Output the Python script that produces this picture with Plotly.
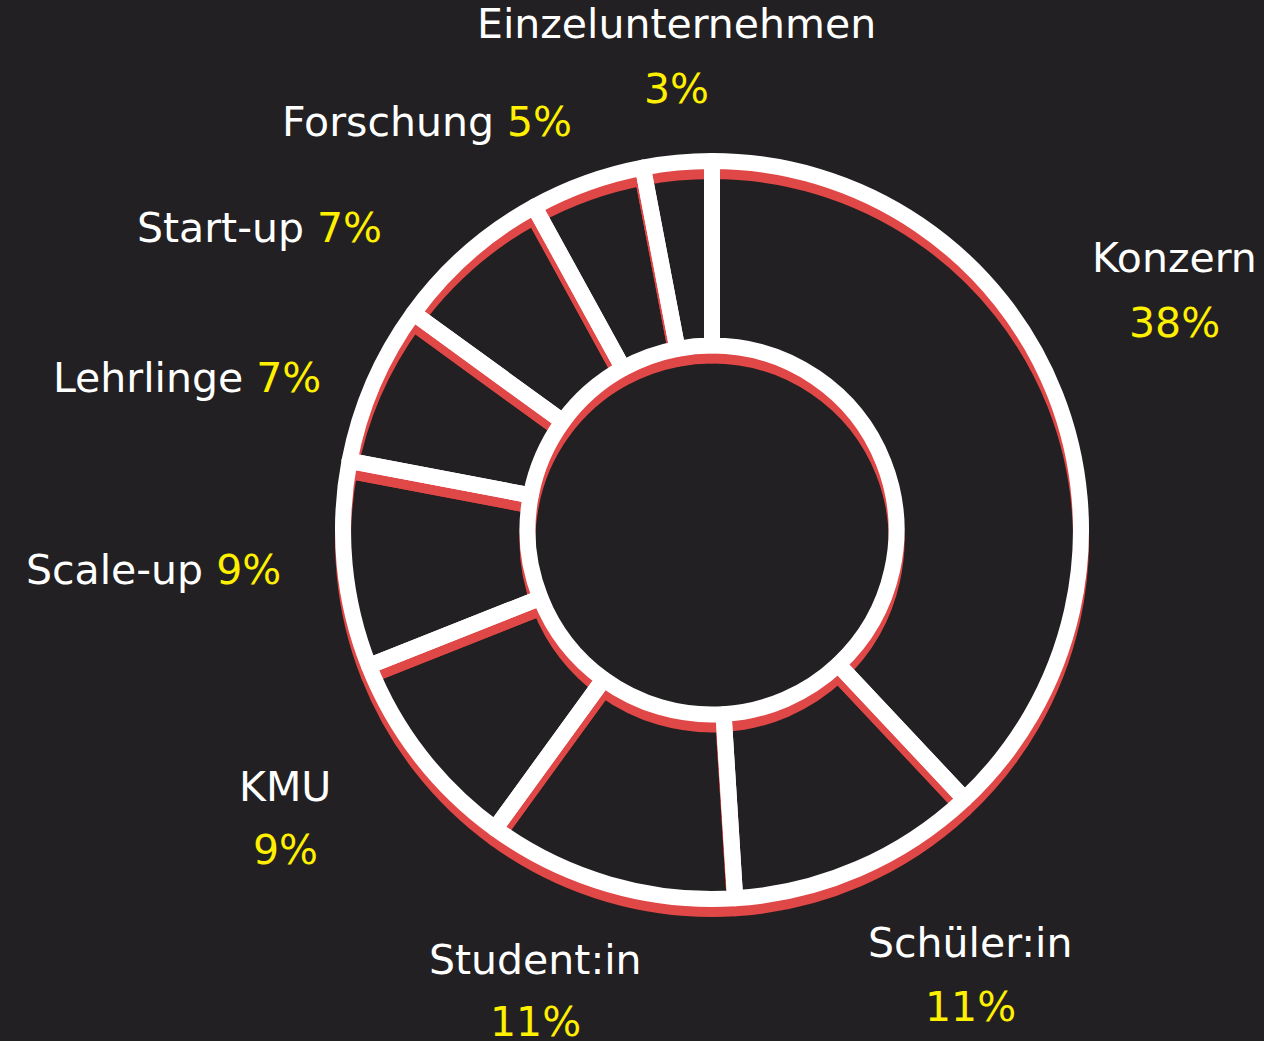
import plotly.graph_objects as go

# slice data, clockwise from 12 o'clock
categories = ["Konzern", "Schüler:in", "Student:in", "KMU", "Scale-up",
              "Lehrlinge", "Start-up", "Forschung", "Einzelunternehmen"]
shares = [38, 11, 11, 9, 9, 7, 7, 5, 3]
pct_labels = [f"{v}%" for v in shares]

W, H = 1264, 1041
BG = "#222022"
RED = "#e04747"
YELLOW = "#fff000"
FONT = "DejaVu Sans"
FONT_SIZE = 41

# donut geometry in pixels
CX, CY, R = 712, 530, 369
SHADOW_DY = 10

# label placement (pixel x, y of first line, y of second line or None)
label_layout = {
    "Konzern": (1174, 258, 323),
    "Schüler:in": (970, 943, 1007),
    "Student:in": (535, 960, 1022),
    "KMU": (285, 787, 850),
    "Scale-up": (153, 570, None),
    "Lehrlinge": (187, 378, None),
    "Start-up": (259, 228, None),
    "Forschung": (427, 122, None),
    "Einzelunternehmen": (676, 24, 89),
}


def domain(dy=0):
    return dict(
        x=[(CX - R) / W, (CX + R) / W],
        y=[1 - (CY + dy + R) / H, 1 - (CY + dy - R) / H],
    )


def px(x, y):
    return x / W, 1 - y / H


fig = go.Figure()

# red "shadow" of the white borders, shifted down
fig.add_trace(
    go.Pie(
        labels=categories,
        values=shares,
        hole=0.5,
        sort=False,
        direction="clockwise",
        rotation=0,
        domain=domain(SHADOW_DY),
        marker=dict(colors=["rgba(0,0,0,0)"] * len(shares),
                    line=dict(color=RED, width=16)),
        textinfo="none",
        hoverinfo="skip",
        showlegend=False,
    )
)

fig.add_trace(
    go.Pie(
        labels=categories,
        values=shares,
        hole=0.5,
        sort=False,
        direction="clockwise",
        rotation=0,
        domain=domain(),
        marker=dict(colors=["rgba(0,0,0,0)"] * len(shares),
                    line=dict(color="white", width=16)),
        textinfo="none",
        hovertemplate="%{label}: %{value}%<extra></extra>",
        showlegend=False,
    )
)

for name, pct in zip(categories, pct_labels):
    x, y1, y2 = label_layout[name]
    if y2 is None:
        ax, ay = px(x, y1)
        fig.add_annotation(
            x=ax, y=ay, xref="paper", yref="paper",
            text=f"{name} <span style='color:{YELLOW}'>{pct}</span>",
            showarrow=False, xanchor="center", yanchor="middle",
            font=dict(family=FONT, size=FONT_SIZE, color="white"),
        )
    else:
        for text, yy, color in ((name, y1, "white"), (pct, y2, YELLOW)):
            ax, ay = px(x, yy)
            fig.add_annotation(
                x=ax, y=ay, xref="paper", yref="paper",
                text=text,
                showarrow=False, xanchor="center", yanchor="middle",
                font=dict(family=FONT, size=FONT_SIZE, color=color),
            )

fig.update_layout(
    width=W,
    height=H,
    margin=dict(l=0, r=0, t=0, b=0),
    paper_bgcolor=BG,
    plot_bgcolor=BG,
    showlegend=False,
)

fig.write_html(
    "out.html",
    config={"displayModeBar": False},
    post_script=f"document.body.style.margin='0';document.body.style.background='{BG}';",
)
